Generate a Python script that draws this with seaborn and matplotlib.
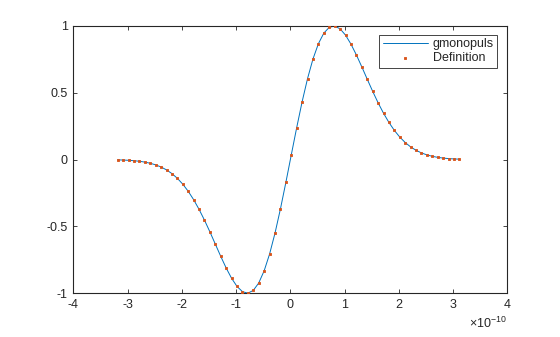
import matplotlib
matplotlib.use("Agg")
import matplotlib.pyplot as plt
import seaborn as sns
import pandas as pd

t = [-3.183, -3.083, -2.983, -2.883, -2.783, -2.683, -2.583, -2.483,
     -2.383, -2.283, -2.183, -2.083, -1.983, -1.883, -1.783, -1.683,
     -1.583, -1.483, -1.383, -1.283, -1.183, -1.083, -0.983, -0.883,
     -0.783, -0.683, -0.583, -0.483, -0.383, -0.283, -0.183, -0.083,
     0.017, 0.117, 0.217, 0.317, 0.417, 0.517, 0.617, 0.717,
     0.817, 0.917, 1.017, 1.117, 1.217, 1.317, 1.417, 1.517,
     1.617, 1.717, 1.817, 1.917, 2.017, 2.117, 2.217, 2.317,
     2.417, 2.517, 2.617, 2.717, 2.817, 2.917, 3.017, 3.117]
y = [-0.00221, -0.00351, -0.00549, -0.00843, -0.01273, -0.01890, -0.02757, -0.03954,
     -0.05573, -0.07717, -0.10500, -0.14031, -0.18414, -0.23728, -0.30011, -0.37245,
     -0.45339, -0.54109, -0.63276, -0.72454, -0.81172, -0.88872, -0.94960, -0.98843,
     -0.99974, -0.97911, -0.92366, -0.83246, -0.70688, -0.55057, -0.36944, -0.17122,
     0.03501, 0.23960, 0.43300, 0.60652, 0.75299, 0.86726, 0.94641, 0.98988,
     0.99932, 0.97814, 0.93121, 0.86420, 0.78312, 0.69382, 0.60157, 0.51086,
     0.42518, 0.34699, 0.27779, 0.21825, 0.16833, 0.12747, 0.09481, 0.06927,
     0.04973, 0.03508, 0.02432, 0.01657, 0.01110, 0.00731, 0.00473, 0.00301]
xticks = [-4, -3, -2, -1, 0, 1, 2, 3, 4]
yticks = [-1, -0.5, 0, 0.5, 1]
yticklabels = ["-1", "-0.5", "0", "0.5", "1"]

df = pd.DataFrame({"t": t, "y": y})

sns.set_theme(style="white")
plt.rcParams["font.family"] = ["Liberation Sans", "DejaVu Sans"]
plt.rcParams["mathtext.fontset"] = "custom"
plt.rcParams["mathtext.rm"] = "Liberation Sans"
plt.rcParams["mathtext.it"] = "Liberation Sans"

fig = plt.figure(figsize=(5.6, 3.37), dpi=100)
ax = fig.add_axes([0.131, 0.130, 0.775, 0.793])

sns.lineplot(data=df, x="t", y="y", ax=ax, color="#0072BD", linewidth=0.7,
             label="gmonopuls", sort=False)
sns.scatterplot(data=df, x="t", y="y", ax=ax, color="#D95319", marker="s",
                s=3, linewidth=0.6, edgecolor="#D95319",
                label="Definition", zorder=3)

ax.set_xlim(-4, 4)
ax.set_ylim(-1, 1)
ax.set_xticks(xticks)
ax.set_xticklabels([str(v) for v in xticks])
ax.set_yticks(yticks)
ax.set_yticklabels(yticklabels)
ax.set_xlabel("")
ax.set_ylabel("")
for sp in ax.spines.values():
    sp.set_color("#262626")
    sp.set_linewidth(0.8)
ax.tick_params(axis="both", which="both", direction="in", length=3, width=0.6,
               colors="#262626", labelsize=9, top=True, right=True,
               bottom=True, left=True, pad=4)
ax.text(1.0, -0.085, r"$\times10^{-10}$", transform=ax.transAxes,
        ha="right", va="top", fontsize=9, color="#262626")

leg = ax.legend(loc="upper right", bbox_to_anchor=(0.977, 0.968), fontsize=9,
                frameon=True, fancybox=False, borderpad=0.3,
                handlelength=3.6, handletextpad=0.4, labelspacing=0.15,
                borderaxespad=0.0, markerscale=1.0)
leg.get_frame().set_edgecolor("#262626")
leg.get_frame().set_linewidth(0.6)
leg.get_frame().set_alpha(1)

fig.savefig("out.png", dpi=100)
